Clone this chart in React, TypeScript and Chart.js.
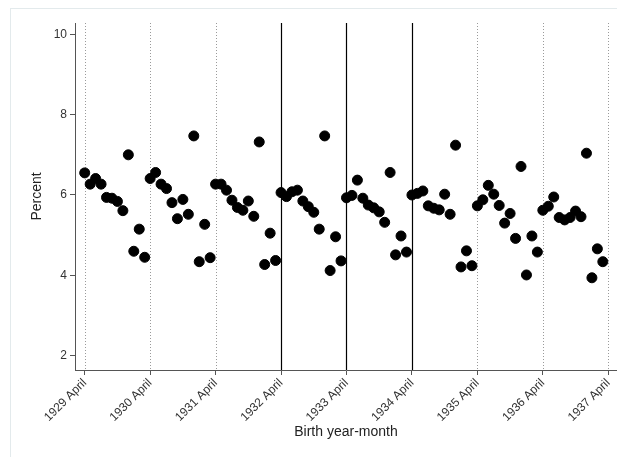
import React, { useEffect, useRef } from 'react';
import { Chart, registerables } from 'chart.js';

Chart.register(...registerables);

// Monthly share (percent), starting 1929 April (month index 0)
const percentValues: number[] = [
  6.55, 6.27, 6.41, 6.27, 5.94, 5.92, 5.84, 5.61, 7.0, 4.6, 5.15, 4.45,
  6.41, 6.56, 6.27, 6.16, 5.81, 5.41, 5.89, 5.52, 7.47, 4.34, 5.27, 4.44,
  6.27, 6.27, 6.12, 5.87, 5.69, 5.62, 5.85, 5.47, 7.32, 4.27, 5.05, 4.37,
  6.06, 5.96, 6.08, 6.12, 5.85, 5.71, 5.57, 5.15, 7.47, 4.12, 4.96, 4.36,
  5.93, 5.99, 6.37, 5.92, 5.75, 5.68, 5.58, 5.32, 6.56, 4.51, 4.98, 4.58,
  6.0, 6.04, 6.1, 5.73, 5.67, 5.63, 6.02, 5.52, 7.24, 4.21, 4.61, 4.24,
  5.73, 5.88, 6.24, 6.02, 5.74, 5.3, 5.54, 4.92, 6.71, 4.01, 4.98, 4.58,
  5.62, 5.72, 5.95, 5.44, 5.38, 5.44, 5.6, 5.46, 7.04, 3.94, 4.66, 4.34,
];

const tickMonths: number[] = [0, 12, 24, 36, 48, 60, 72, 84, 96];
const tickLabels: string[] = [
  '1929 April', '1930 April', '1931 April', '1932 April', '1933 April',
  '1934 April', '1935 April', '1936 April', '1937 April',
];
const solidLineMonths: number[] = [36, 48, 60];
const dottedLineMonths: number[] = [0, 12, 24, 72, 84, 96];
const yTickValues: number[] = [2, 4, 6, 8, 10];

const FONT = "'Liberation Sans', Arial, Helvetica, sans-serif";

const refLinesPlugin = {
  id: 'refLines',
  beforeDatasetsDraw(chart: any) {
    const { ctx, chartArea, scales } = chart;
    const x = scales.x;
    ctx.save();
    ctx.beginPath();
    ctx.rect(chartArea.left, chartArea.top, chartArea.right - chartArea.left, chartArea.bottom - chartArea.top);
    ctx.clip();
    ctx.strokeStyle = '#9a9a9a';
    ctx.lineWidth = 1;
    ctx.setLineDash([1, 2]);
    dottedLineMonths.forEach((m) => {
      const px = Math.round(x.getPixelForValue(m)) + 0.5;
      ctx.beginPath();
      ctx.moveTo(px, chartArea.top);
      ctx.lineTo(px, chartArea.bottom);
      ctx.stroke();
    });
    ctx.setLineDash([]);
    ctx.strokeStyle = '#000';
    ctx.lineWidth = 1.2;
    solidLineMonths.forEach((m) => {
      const px = Math.round(x.getPixelForValue(m)) + 0.5;
      ctx.beginPath();
      ctx.moveTo(px, chartArea.top);
      ctx.lineTo(px, chartArea.bottom);
      ctx.stroke();
    });
    ctx.restore();
  },
};

export default function App() {
  const canvasRef = useRef<HTMLCanvasElement | null>(null);

  useEffect(() => {
    if (!canvasRef.current) return;
    const chart = new Chart(canvasRef.current, {
      type: 'scatter',
      data: {
        datasets: [
          {
            data: percentValues.map((v, i) => ({ x: i, y: v })),
            backgroundColor: '#000',
            borderColor: '#000',
            borderWidth: 1,
            pointRadius: 5,
            pointHoverRadius: 5,
          },
        ],
      },
      options: {
        responsive: false,
        animation: false,
        devicePixelRatio: 1,
        layout: { autoPadding: false, padding: { top: 23, right: 0, left: 0, bottom: 0 } },
        plugins: {
          legend: { display: false },
          tooltip: { enabled: false },
          title: { display: false },
        },
        scales: {
          x: {
            type: 'linear',
            min: -1.78,
            max: 97.6,
            afterBuildTicks: (scale: any) => {
              scale.ticks = tickMonths.map((v) => ({ value: v }));
            },
            afterFit: (scale: any) => {
              scale.height = 87;
              scale.paddingLeft = 0;
              scale.paddingRight = 0;
            },
            grid: {
              drawOnChartArea: false,
              drawTicks: true,
              tickLength: 5,
              color: '#555',
            },
            border: { display: true, color: '#555', width: 1 },
            ticks: {
              autoSkip: false,
              minRotation: 45,
              maxRotation: 45,
              padding: 1,
              color: '#333',
              font: { family: FONT, size: 12 },
              callback: (value: any) => {
                const idx = tickMonths.indexOf(Number(value));
                return idx >= 0 ? tickLabels[idx] : '';
              },
            },
            title: {
              display: true,
              text: 'Birth year-month',
              color: '#222',
              font: { family: FONT, size: 14 },
              padding: { top: 0, bottom: 16 },
            },
          },
          y: {
            type: 'linear',
            min: 1.645,
            max: 10.28,
            afterBuildTicks: (scale: any) => {
              scale.ticks = yTickValues.map((v) => ({ value: v }));
            },
            afterFit: (scale: any) => {
              scale.width = 75;
              scale.paddingTop = 0;
              scale.paddingBottom = 0;
            },
            grid: {
              drawOnChartArea: false,
              drawTicks: true,
              tickLength: 5,
              color: '#555',
            },
            border: { display: true, color: '#555', width: 1 },
            ticks: {
              padding: 3,
              color: '#333',
              font: { family: FONT, size: 12 },
              callback: (value: any) => String(value),
            },
            title: {
              display: true,
              text: 'Percent',
              color: '#222',
              font: { family: FONT, size: 14 },
              padding: { top: 29, bottom: 0 },
            },
          },
        },
      },
      plugins: [refLinesPlugin],
    });
    return () => chart.destroy();
  }, []);

  return (
    <div
      style={{
        position: 'absolute',
        left: 0,
        top: 0,
        width: 617,
        height: 457,
        overflow: 'hidden',
        background: '#fff',
      }}
    >
      <div
        style={{
          position: 'absolute',
          left: 10,
          top: 8,
          width: 700,
          height: 600,
          border: '1px solid #e3eaec',
        }}
      />
      <canvas
        ref={canvasRef}
        width={617}
        height={457}
        style={{ position: 'absolute', left: 0, top: 0, width: 617, height: 457 }}
      />
    </div>
  );
}
